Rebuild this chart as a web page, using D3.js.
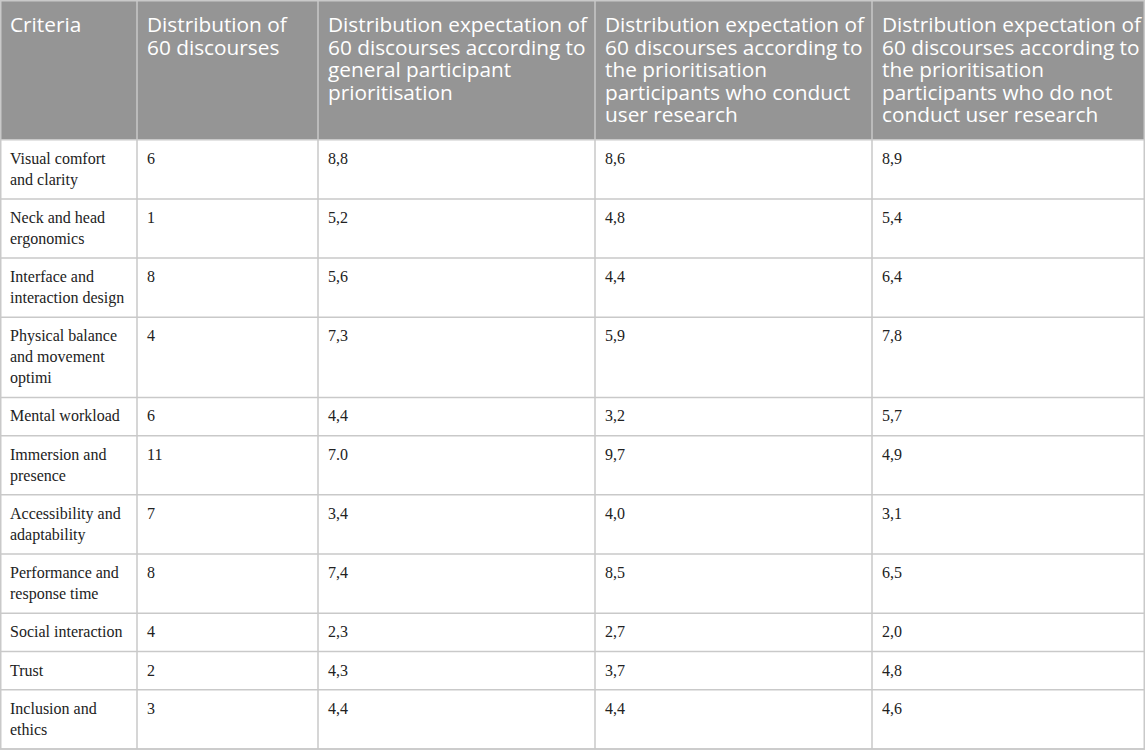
<!DOCTYPE html>
<html>
<head>
<meta charset="utf-8">
<script src="https://cdn.jsdelivr.net/npm/d3@7"></script>
<style>
  body { margin: 0; background: #fff; }
  .head { font-family: "Open Sans", sans-serif; font-size: 20.8px; fill: #fff; }
  .cell { font-family: "Liberation Serif", "Times New Roman", serif; font-size: 16px; fill: #222; }
</style>
</head>
<body>
<svg id="chart" width="1145" height="750"></svg>
<script>
// Data
const headers = [
  ["Criteria"],
  ["Distribution of", "60 discourses"],
  ["Distribution expectation of", "60 discourses according to", "general participant", "prioritisation"],
  ["Distribution expectation of", "60 discourses according to", "the prioritisation", "participants who conduct", "user research"],
  ["Distribution expectation of", "60 discourses according to", "the prioritisation", "participants who do not", "conduct user research"]
];

const criteria = [
  ["Visual comfort", "and clarity"],
  ["Neck and head", "ergonomics"],
  ["Interface and", "interaction design"],
  ["Physical balance", "and movement", "optimi"],
  ["Mental workload"],
  ["Immersion and", "presence"],
  ["Accessibility and", "adaptability"],
  ["Performance and", "response time"],
  ["Social interaction"],
  ["Trust"],
  ["Inclusion and", "ethics"]
];

const discourses = ["6", "1", "8", "4", "6", "11", "7", "8", "4", "2", "3"];
const expGeneral = ["8,8", "5,2", "5,6", "7,3", "4,4", "7.0", "3,4", "7,4", "2,3", "4,3", "4,4"];
const expResearch = ["8,6", "4,8", "4,4", "5,9", "3,2", "9,7", "4,0", "8,5", "2,7", "3,7", "4,4"];
const expNoResearch = ["8,9", "5,4", "6,4", "7,8", "5,7", "4,9", "3,1", "6,5", "2,0", "4,8", "4,6"];

// Setup
const svg = d3.select("#chart");
const width = +svg.attr("width");
const height = +svg.attr("height");
const colEdges = [0, 137, 318, 595, 872, width];
const headH = 140.5;
const lineH = 21;
const headLineH = 22.6;
const padX = 10;
const border = "#c9c9c9";

const rows = criteria.map((c, i) => ({
  cells: [c, [discourses[i]], [expGeneral[i]], [expResearch[i]], [expNoResearch[i]]],
  lines: c.length
}));

// Row positions from cumulative line counts
let acc = headH;
rows.forEach(r => { r.y0 = acc; r.h = 17.5 + lineH * r.lines; acc += r.h; });
const y = d3.scaleLinear().domain([0, acc]).range([0, height - 1]);
const x = d3.scaleLinear().domain([0, width]).range([0, width]);

// Header
svg.append("rect")
  .attr("x", 0).attr("y", 0)
  .attr("width", width).attr("height", y(headH))
  .attr("fill", "#959595");

const hg = svg.append("g");
headers.forEach((lines, j) => {
  const t = hg.append("text").attr("class", "head")
    .attr("x", x(colEdges[j]) + padX).attr("y", 32);
  t.selectAll("tspan").data(lines).join("tspan")
    .attr("x", x(colEdges[j]) + padX)
    .attr("dy", (d, k) => k === 0 ? 0 : headLineH)
    .text(d => d);
});

// Body
const rg = svg.selectAll("g.row").data(rows).join("g").attr("class", "row");
rg.each(function(r) {
  const g = d3.select(this);
  r.cells.forEach((lines, j) => {
    const t = g.append("text").attr("class", "cell")
      .attr("x", x(colEdges[j]) + padX)
      .attr("y", y(r.y0) + 24);
    t.selectAll("tspan").data(lines).join("tspan")
      .attr("x", x(colEdges[j]) + padX)
      .attr("dy", (d, k) => k === 0 ? 0 : lineH)
      .text(d => d);
  });
});

// Grid lines
const grid = svg.append("g").attr("stroke", border).attr("stroke-width", 1.5);
grid.selectAll("line.h").data(rows.map(r => r.y0).concat([acc])).join("line")
  .attr("class", "h")
  .attr("x1", 0).attr("x2", width)
  .attr("y1", d => y(d)).attr("y2", d => y(d));
grid.selectAll("line.v").data(colEdges.slice(1, -1)).join("line")
  .attr("class", "v")
  .attr("x1", d => x(d)).attr("x2", d => x(d))
  .attr("y1", 0).attr("y2", y(acc));
svg.append("rect")
  .attr("x", 0.75).attr("y", 0.75)
  .attr("width", width - 1.5).attr("height", y(acc) - 0.75)
  .attr("fill", "none").attr("stroke", border).attr("stroke-width", 1.5);
</script>
</body>
</html>
